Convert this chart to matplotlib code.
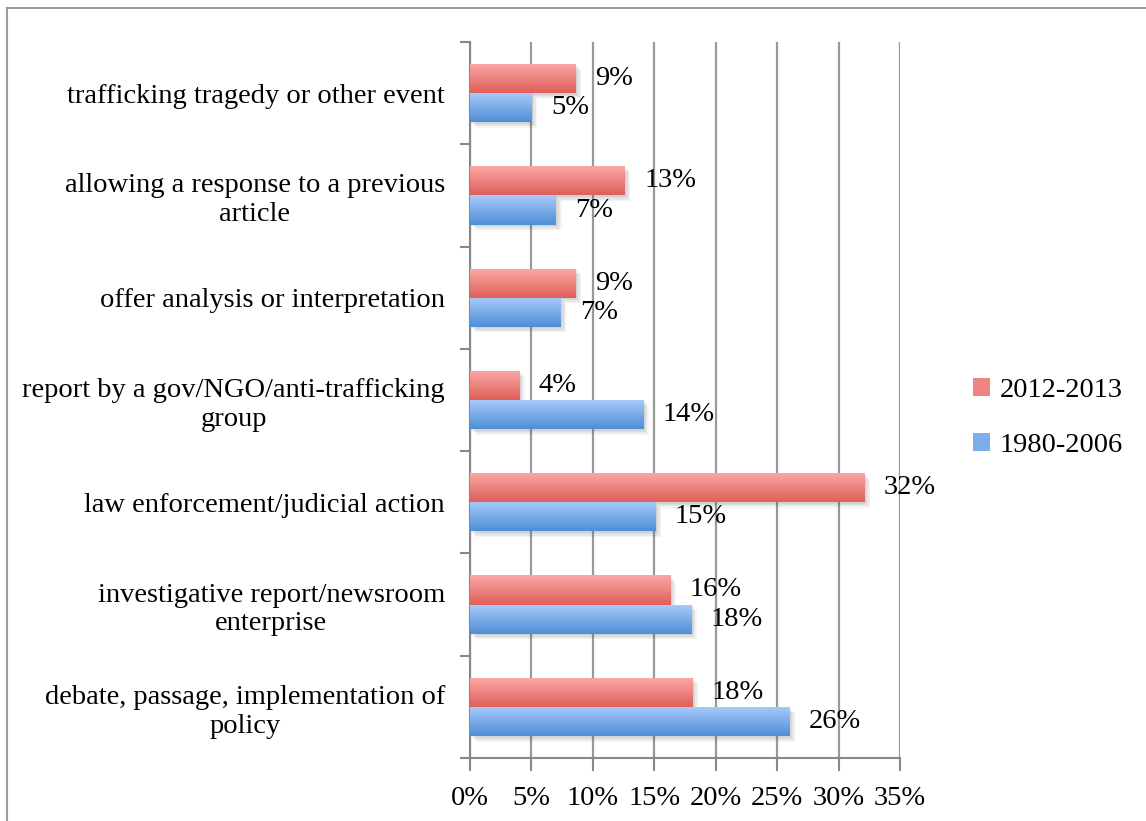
import numpy as np
import matplotlib
matplotlib.use("Agg")
import matplotlib.pyplot as plt
from matplotlib.colors import LinearSegmentedColormap
from matplotlib import patheffects as pe
from matplotlib.patches import Patch
from matplotlib.lines import Line2D

# Story triggers, top to bottom
categories = [
    "trafficking tragedy or other event",
    "allowing a response to a previous\narticle",
    "offer analysis or interpretation",
    "report by a gov/NGO/anti-trafficking\ngroup",
    "law enforcement/judicial action",
    "investigative report/newsroom\nenterprise",
    "debate, passage, implementation of\npolicy",
]
share_2012_2013 = [8.6, 12.6, 8.6, 4.0, 32.1, 16.3, 18.1]
share_1980_2006 = [5.0, 7.0, 7.4, 14.1, 15.1, 18.0, 26.0]
series_names = ["2012-2013", "1980-2006"]
xtick_values = [0, 5, 10, 15, 20, 25, 30, 35]
xtick_labels = [f"{v}%" for v in xtick_values]

FONT = "Liberation Serif"
FS = 20.5

red_cmap = LinearSegmentedColormap.from_list("red_grad", ["#fba9a7", "#df5f59"])
blue_cmap = LinearSegmentedColormap.from_list("blue_grad", ["#a8cbfb", "#4f8fd6"])

fig = plt.figure(figsize=(11.46, 8.21), dpi=100)
ax = fig.add_axes([470 / 1146, 1 - 758 / 821, 430 / 1146, (758 - 42) / 821])

n = len(categories)
y = np.arange(n)
h = 0.285

grad = np.linspace(0, 1, 64).reshape(-1, 1)

# soft drop shadow built from a few faint offset layers
shadow_fx = [pe.SimplePatchShadow(offset=(d, -d), shadow_rgbFace="#555555", alpha=0.07)
             for d in (1, 2, 3, 4)]


def gradient_bars(values, offset, cmap):
    bars = ax.barh(y + offset, values, height=h, facecolor=(1, 1, 1, 0),
                   edgecolor="none", zorder=3)
    for bar in bars:
        bar.set_path_effects(shadow_fx)
        x0, y0 = bar.get_x(), bar.get_y()
        w, hh = bar.get_width(), bar.get_height()
        im = ax.imshow(grad, cmap=cmap, aspect="auto",
                       extent=[x0, x0 + w, y0 + hh, y0],
                       origin="upper", zorder=4, interpolation="bilinear")
        im.set_clip_path(bar)
    return bars


red_bars = gradient_bars(share_2012_2013, -h / 2, red_cmap)
blue_bars = gradient_bars(share_1980_2006, h / 2, blue_cmap)

# value labels
for vals, off in ((share_2012_2013, -h / 2), (share_1980_2006, h / 2)):
    for yi, v in zip(y, vals):
        ax.annotate(f"{v:.0f}%", xy=(v, yi + off), xytext=(14, 0),
                    textcoords="offset points", ha="left", va="center",
                    fontsize=FS, family=FONT, color="black", zorder=6)

ax.set_xlim(0, 35)
ax.set_ylim(n - 0.5, -0.5)

# vertical gridlines
ax.set_xticks(xtick_values)
ax.set_xticklabels(xtick_labels, fontsize=FS, family=FONT)
ax.grid(axis="x", color="#999999", linewidth=1.6, zorder=0)
ax.set_axisbelow(True)

# category labels at centers, tick marks at category boundaries
ax.set_yticks(y)
ax.set_yticklabels(categories, fontsize=FS, family=FONT, multialignment="center")
ax.set_yticks(np.arange(n + 1) - 0.5, minor=True)
ax.tick_params(axis="y", which="major", length=0, pad=18)
ax.tick_params(axis="y", which="minor", length=7, width=1.5, color="#888888")
ax.tick_params(axis="x", which="major", length=9, width=1.5, color="#888888", pad=11)

for side in ("top", "right"):
    ax.spines[side].set_visible(False)
for side in ("left", "bottom"):
    ax.spines[side].set_color("#888888")
    ax.spines[side].set_linewidth(1.5)

# legend
handles = [Patch(facecolor="#ee8580", edgecolor="none"),
           Patch(facecolor="#7eaee9", edgecolor="none")]
leg = fig.legend(handles, series_names, loc="center left",
                 bbox_to_anchor=(947 / 1146, 1 - 418 / 821), frameon=False,
                 prop={"family": FONT, "size": FS}, handlelength=0.6,
                 handleheight=0.6, handletextpad=0.35, labelspacing=1.05)

# outer frame
fig.add_artist(Line2D([7 / 1146, 7 / 1146], [0, 1 - 8 / 821], transform=fig.transFigure,
                      color="#9a9a9a", linewidth=1.5))
fig.add_artist(Line2D([7 / 1146, 1], [1 - 8 / 821, 1 - 8 / 821], transform=fig.transFigure,
                      color="#9a9a9a", linewidth=1.5))

fig.savefig("out.png", dpi=100)
